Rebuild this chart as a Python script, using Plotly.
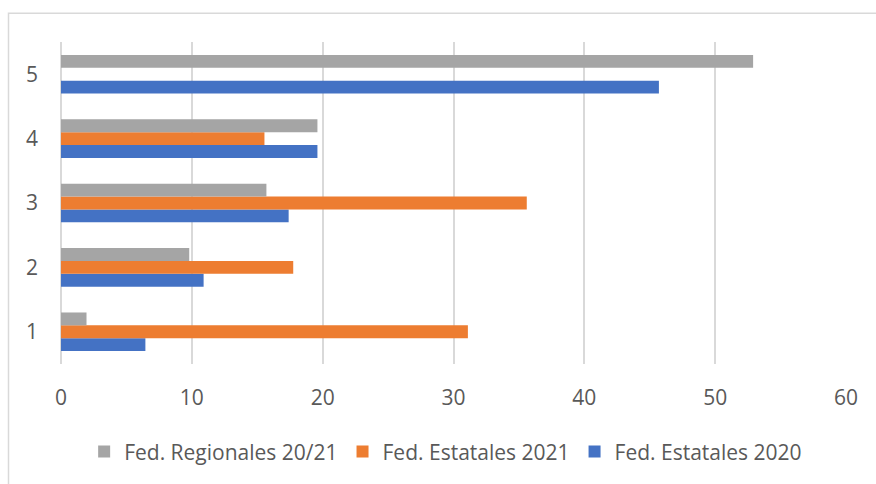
import plotly.graph_objects as go

categories = ["1", "2", "3", "4", "5"]
estatales_2020 = [6.45, 10.9, 17.4, 19.6, 45.7]
estatales_2021 = [31.1, 17.75, 35.6, 15.55, None]
regionales_2021 = [1.95, 9.8, 15.7, 19.6, 52.9]
x_ticks = [0, 10, 20, 30, 40, 50, 60]

names = ["Fed. Estatales 2020", "Fed. Estatales 2021", "Fed. Regionales 20/21"]
colors = ["#4472C4", "#ED7D31", "#A5A5A5"]
series = [estatales_2020, estatales_2021, regionales_2021]

W, H = 876, 484
L, R, T, B = 61, 30, 42, 116
pw, ph = W - L - R, H - T - B

fig = go.Figure()
for name, color, vals in zip(names, colors, series):
    fig.add_trace(go.Bar(
        y=categories, x=vals, name=name, orientation="h",
        marker=dict(color=color, line=dict(width=0)),
    ))

font = dict(family="Open Sans, Noto Sans, sans-serif", size=21, color="#595959")

fig.update_layout(
    width=W, height=H,
    margin=dict(l=L, r=R, t=T, b=B),
    paper_bgcolor="white", plot_bgcolor="white",
    barmode="group", bargap=0.4, bargroupgap=0,
    font=font,
    showlegend=True,
    legend=dict(orientation="h", x=0.49, xanchor="center",
                y=(T + ph - 457) / ph, yanchor="middle",
                traceorder="reversed", font=font,
                itemwidth=30),
    xaxis=dict(range=[0, 60], tickvals=x_ticks, showgrid=True,
               gridcolor="#D9D9D9", gridwidth=1.5,
               zeroline=True, zerolinecolor="#D9D9D9", zerolinewidth=1.5,
               showline=False, ticks="", ticklabelstandoff=19, fixedrange=True),
    yaxis=dict(type="category", showgrid=False, zeroline=False, showline=False,
               ticks="", ticklabelstandoff=22, fixedrange=True),
    shapes=[dict(type="rect", xref="paper", yref="paper",
                 x0=(8.5 - L) / pw, x1=(W + 20 - L) / pw,
                 y0=(T + ph - (H + 20)) / ph, y1=(T + ph - 13) / ph,
                 line=dict(color="#D9D9D9", width=1.5), layer="below")],
)

fig.write_html("out.html", config={"displayModeBar": False},
               post_script="document.body.style.margin='0';")
